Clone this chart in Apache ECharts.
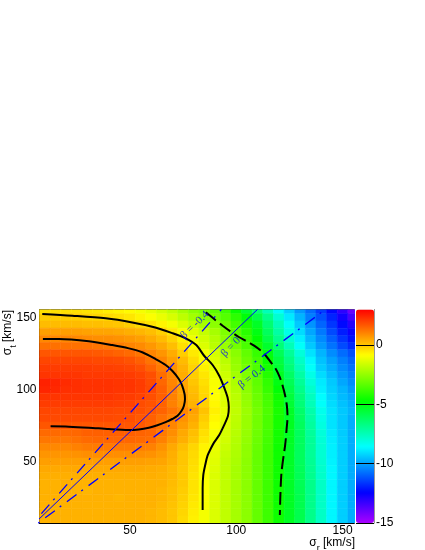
<!DOCTYPE html>
<html>
<head>
<meta charset="utf-8">
<script src="https://cdn.jsdelivr.net/npm/echarts@6/dist/echarts.min.js"></script>
<style>
  html, body { margin: 0; padding: 0; background: #fff; }
  #chart { width: 425px; height: 550px; }
</style>
</head>
<body>
<div id="chart"></div>
<script>
// bin centres of the 2D histogram (sigma_r along x, sigma_t along y, top row first)
var sigmaR = [10, 15, 20, 25, 30, 35, 40, 45, 50, 55, 60, 65, 70, 75, 80, 85, 90, 95, 100, 105, 110, 115, 120, 125, 130, 135, 140, 145, 150, 155];
var sigmaT = [155, 150, 145, 140, 135, 130, 125, 120, 115, 110, 105, 100, 95, 90, 85, 80, 75, 70, 65, 60, 55, 50, 45, 40, 35, 30, 25, 20, 15, 10];

// z values, one row per sigmaT entry
var zRows = [
  [-0.4, -0.4, -0.4, -0.4, -0.45, -0.5, -0.6, -0.7, -0.8, -1.0, -1.2, -1.5, -1.8, -2.2, -2.6, -2.9, -3.3, -3.8, -4.6, -5.5, -6.5, -7.5, -8.5, -9.3, -10.1, -10.8, -11.5, -12.3, -13.1, -14.0],
  [-0.1, -0.1, -0.1, -0.1, -0.2, -0.25, -0.3, -0.4, -0.5, -0.7, -0.9, -1.15, -1.45, -1.85, -2.25, -2.6, -2.95, -3.45, -4.05, -4.85, -5.8, -6.8, -7.9, -8.9, -9.7, -10.5, -11.2, -11.9, -12.7, -13.5],
  [0.15, 0.15, 0.15, 0.15, 0.1, 0.1, 0.05, 0.0, -0.1, -0.3, -0.45, -0.7, -1.0, -1.4, -1.8, -2.2, -2.6, -3.1, -3.7, -4.4, -5.3, -6.4, -7.5, -8.5, -9.4, -10.2, -10.9, -11.6, -12.3, -13.0],
  [0.6, 0.6, 0.6, 0.6, 0.55, 0.5, 0.5, 0.45, 0.35, 0.25, 0.1, -0.15, -0.55, -0.95, -1.35, -1.75, -2.2, -2.8, -3.4, -4.1, -5.0, -6.1, -7.2, -8.2, -9.1, -9.9, -10.6, -11.3, -12.0, -12.6],
  [0.95, 0.95, 0.95, 0.95, 0.9, 0.85, 0.85, 0.8, 0.7, 0.6, 0.4, 0.15, -0.2, -0.65, -1.1, -1.55, -2.0, -2.6, -3.2, -3.85, -4.7, -5.8, -6.85, -7.85, -8.8, -9.65, -10.35, -11.0, -11.65, -12.2],
  [1.3, 1.3, 1.3, 1.3, 1.3, 1.25, 1.2, 1.1, 1.0, 0.9, 0.7, 0.45, 0.1, -0.4, -0.9, -1.4, -1.9, -2.4, -3.0, -3.6, -4.4, -5.4, -6.5, -7.5, -8.5, -9.4, -10.1, -10.7, -11.3, -11.8],
  [1.7, 1.7, 1.7, 1.7, 1.7, 1.65, 1.6, 1.5, 1.4, 1.25, 1.0, 0.75, 0.4, -0.1, -0.55, -1.0, -1.5, -2.1, -2.65, -3.25, -3.9, -4.9, -6.0, -7.0, -8.0, -9.0, -9.7, -10.3, -10.8, -11.2],
  [1.95, 1.95, 1.95, 1.95, 1.95, 1.9, 1.9, 1.85, 1.75, 1.55, 1.25, 1.0, 0.6, 0.15, -0.35, -0.8, -1.35, -1.9, -2.5, -3.1, -3.7, -4.6, -5.7, -6.7, -7.7, -8.7, -9.5, -10.0, -10.5, -10.9],
  [2.1, 2.1, 2.1, 2.1, 2.1, 2.05, 2.05, 2.0, 1.95, 1.8, 1.5, 1.15, 0.8, 0.3, -0.2, -0.65, -1.2, -1.75, -2.4, -2.95, -3.55, -4.4, -5.5, -6.5, -7.5, -8.5, -9.35, -9.8, -10.3, -10.7],
  [2.2, 2.2, 2.2, 2.2, 2.15, 2.15, 2.15, 2.15, 2.1, 2.0, 1.8, 1.35, 0.95, 0.4, -0.1, -0.5, -1.05, -1.6, -2.25, -2.8, -3.4, -4.2, -5.2, -6.2, -7.2, -8.2, -9.1, -9.6, -10.1, -10.5],
  [2.5, 2.45, 2.35, 2.3, 2.25, 2.25, 2.25, 2.2, 2.2, 2.1, 1.85, 1.45, 1.0, 0.5, 0.0, -0.4, -0.95, -1.5, -2.1, -2.7, -3.3, -4.0, -5.0, -6.0, -7.0, -8.0, -8.9, -9.4, -9.9, -10.3],
  [2.45, 2.4, 2.3, 2.3, 2.25, 2.25, 2.25, 2.2, 2.2, 2.1, 1.9, 1.55, 1.05, 0.55, 0.1, -0.3, -0.9, -1.45, -2.0, -2.6, -3.2, -3.9, -4.8, -5.8, -6.8, -7.8, -8.8, -9.3, -9.7, -10.1],
  [2.2, 2.2, 2.2, 2.2, 2.2, 2.2, 2.2, 2.15, 2.1, 2.0, 1.8, 1.55, 1.05, 0.6, 0.2, -0.25, -0.85, -1.4, -1.9, -2.5, -3.1, -3.7, -4.5, -5.6, -6.6, -7.6, -8.6, -9.2, -9.6, -9.9],
  [2.1, 2.1, 2.1, 2.1, 2.1, 2.1, 2.1, 2.05, 2.0, 1.85, 1.75, 1.5, 1.05, 0.7, 0.3, -0.15, -0.75, -1.35, -1.85, -2.45, -3.05, -3.65, -4.45, -5.5, -6.5, -7.5, -8.5, -9.1, -9.5, -9.8],
  [1.95, 1.95, 1.95, 1.95, 1.95, 1.95, 1.95, 1.9, 1.9, 1.8, 1.65, 1.5, 1.25, 0.95, 0.55, 0.05, -0.65, -1.25, -1.8, -2.35, -2.95, -3.55, -4.35, -5.3, -6.3, -7.3, -8.3, -9.0, -9.4, -9.7],
  [1.9, 1.9, 1.9, 1.9, 1.9, 1.9, 1.9, 1.85, 1.8, 1.65, 1.55, 1.3, 1.05, 0.8, 0.45, -0.1, -0.75, -1.3, -1.85, -2.4, -3.0, -3.6, -4.4, -5.25, -6.2, -7.2, -8.2, -9.0, -9.4, -9.8],
  [1.7, 1.7, 1.7, 1.7, 1.7, 1.7, 1.7, 1.7, 1.7, 1.65, 1.5, 1.25, 1.0, 0.65, 0.3, -0.25, -0.85, -1.4, -1.9, -2.4, -3.0, -3.6, -4.4, -5.2, -6.1, -7.1, -8.1, -9.0, -9.4, -9.8],
  [1.4, 1.4, 1.4, 1.45, 1.55, 1.55, 1.55, 1.55, 1.55, 1.5, 1.45, 1.15, 0.85, 0.45, 0.1, -0.4, -0.95, -1.5, -1.95, -2.45, -3.05, -3.65, -4.45, -5.25, -6.1, -7.05, -8.0, -8.9, -9.35, -9.8],
  [1.2, 1.2, 1.2, 1.3, 1.4, 1.45, 1.45, 1.45, 1.45, 1.4, 1.35, 1.05, 0.7, 0.35, 0.0, -0.5, -1.05, -1.55, -2.0, -2.5, -3.1, -3.7, -4.45, -5.25, -6.1, -7.0, -7.95, -8.85, -9.3, -9.8],
  [0.95, 0.95, 0.95, 1.05, 1.15, 1.15, 1.15, 1.15, 1.15, 1.1, 1.05, 0.8, 0.45, 0.1, -0.25, -0.7, -1.15, -1.65, -2.05, -2.55, -3.15, -3.75, -4.5, -5.3, -6.1, -7.0, -7.9, -8.8, -9.3, -9.8],
  [0.75, 0.75, 0.75, 0.8, 0.85, 0.85, 0.85, 0.85, 0.85, 0.85, 0.8, 0.65, 0.35, 0.0, -0.3, -0.75, -1.25, -1.75, -2.1, -2.55, -3.2, -3.8, -4.5, -5.3, -6.1, -7.0, -7.9, -8.8, -9.3, -9.8],
  [0.6, 0.6, 0.6, 0.6, 0.6, 0.6, 0.6, 0.6, 0.6, 0.6, 0.55, 0.5, 0.3, 0.0, -0.35, -0.8, -1.3, -1.8, -2.15, -2.6, -3.2, -3.8, -4.5, -5.3, -6.1, -6.95, -7.85, -8.75, -9.3, -9.8],
  [0.45, 0.45, 0.45, 0.45, 0.45, 0.45, 0.45, 0.45, 0.45, 0.45, 0.4, 0.35, 0.2, -0.05, -0.4, -0.85, -1.35, -1.8, -2.2, -2.6, -3.2, -3.8, -4.5, -5.3, -6.05, -6.9, -7.8, -8.7, -9.3, -9.8],
  [0.35, 0.35, 0.35, 0.35, 0.35, 0.35, 0.35, 0.35, 0.35, 0.35, 0.35, 0.3, 0.2, -0.05, -0.45, -0.9, -1.4, -1.8, -2.2, -2.6, -3.2, -3.8, -4.5, -5.3, -6.0, -6.85, -7.75, -8.7, -9.3, -9.8],
  [0.3, 0.3, 0.35, 0.3, 0.3, 0.3, 0.3, 0.3, 0.3, 0.3, 0.3, 0.3, 0.15, -0.05, -0.45, -0.9, -1.4, -1.8, -2.2, -2.6, -3.2, -3.8, -4.5, -5.3, -6.0, -6.8, -7.7, -8.7, -9.3, -9.8],
  [0.3, 0.3, 0.3, 0.3, 0.25, 0.3, 0.3, 0.3, 0.3, 0.3, 0.3, 0.25, 0.1, -0.1, -0.45, -0.9, -1.4, -1.8, -2.2, -2.6, -3.2, -3.8, -4.5, -5.3, -5.95, -6.8, -7.7, -8.7, -9.3, -9.8],
  [0.3, 0.3, 0.3, 0.3, 0.3, 0.3, 0.3, 0.25, 0.3, 0.3, 0.3, 0.25, 0.1, -0.15, -0.5, -0.9, -1.4, -1.8, -2.2, -2.6, -3.2, -3.8, -4.5, -5.25, -5.9, -6.8, -7.7, -8.7, -9.3, -9.8],
  [0.3, 0.3, 0.3, 0.3, 0.3, 0.3, 0.3, 0.3, 0.3, 0.3, 0.3, 0.2, 0.05, -0.2, -0.55, -0.95, -1.4, -1.8, -2.2, -2.6, -3.2, -3.8, -4.5, -5.25, -5.9, -6.8, -7.7, -8.7, -9.3, -9.8],
  [0.3, 0.3, 0.3, 0.3, 0.3, 0.3, 0.3, 0.3, 0.3, 0.3, 0.25, 0.15, 0.0, -0.25, -0.6, -1.0, -1.4, -1.8, -2.2, -2.6, -3.2, -3.8, -4.5, -5.25, -5.9, -6.8, -7.7, -8.7, -9.3, -9.8],
  [0.3, 0.3, 0.3, 0.3, 0.3, 0.3, 0.3, 0.3, 0.3, 0.3, 0.25, 0.15, 0.0, -0.3, -0.65, -1.0, -1.4, -1.8, -2.2, -2.6, -3.2, -3.8, -4.5, -5.25, -5.9, -6.8, -7.7, -8.7, -9.3, -9.8]
];

// contour lines [sigma_r, sigma_t]
var innerContour = [[9.1, 135.0], [16.6, 135.0], [30.7, 133.4], [41.7, 130.8], [49.5, 128.5], [55.8, 125.8], [62.1, 121.1], [66.8, 117.0], [69.9, 113.0], [73.0, 107.3], [74.6, 102.6], [75.7, 96.9], [75.9, 93.4], [75.4, 88.8], [74.3, 85.3], [72.4, 81.8], [69.9, 79.6], [66.8, 77.4], [62.9, 75.3], [58.9, 73.6], [54.2, 72.4], [49.5, 72.0], [40.1, 72.6], [30.7, 73.6], [21.3, 74.3], [12.7, 74.5]];
var outerContour = [[8.8, 152.3], [22.9, 151.1], [38.6, 149.3], [51.1, 146.5], [60.5, 143.5], [69.9, 139.1], [76.2, 135.5], [81.2, 130.8], [84.9, 123.4], [88.9, 117.0], [92.0, 109.6], [94.3, 101.5], [95.9, 94.6], [96.5, 87.7], [96.1, 81.6], [94.3, 75.4], [92.0, 68.5], [89.6, 63.4], [88.1, 59.3], [86.5, 54.2], [85.4, 47.7], [84.5, 40.8], [84.2, 31.6], [84.2, 16.6]];
var dashedContour = [[85.7, 153.5], [89.6, 148.8], [93.6, 144.2], [97.5, 140.0], [101.4, 136.2], [105.3, 133.1], [108.4, 130.4], [111.6, 126.9], [113.9, 123.4], [116.3, 118.8], [118.6, 114.2], [120.5, 108.4], [121.8, 102.6], [123.0, 95.7], [123.8, 88.8], [124.1, 81.0], [123.7, 73.1], [123.0, 61.6], [122.1, 52.4], [121.3, 43.1], [121.0, 36.2], [120.7, 24.7], [120.5, 13.1]];

// constant-anisotropy lines through the origin
var betaNames = ['β = -0.4', 'β = 0', 'β = 0.4'];
var betaLineEnds = [[93, 155.5], [110, 155.5], [142, 155.5]];
var betaLabelPos = [[80.5, 144.7], [97.5, 129.4], [107.3, 108.7]];
var betaLabelAngle = [44, 46, 38];

var xMajor = [50, 100, 150];
var xMinor = [10, 20, 30, 40, 60, 70, 80, 90, 110, 120, 130, 140];
var yMajor = [50, 100, 150];
var yMinor = [10, 20, 30, 40, 60, 70, 80, 90, 110, 120, 130, 140];
var zTicks = [0, -5, -10, -15];

var binW = 5, binH = 5;
var font = "'Liberation Sans', Arial, sans-serif";

var cells = [];
for (var j = 0; j < sigmaT.length; j++) {
    for (var i = 0; i < sigmaR.length; i++) {
        cells.push([sigmaR[i], sigmaT[j], zRows[j][i]]);
    }
}

// ROOT "pretty" palette: hue 280 (violet) down to 0 (red), S=1, L=0.5
function hueColor(h) {
    var f = function (n) {
        var k = (n + h / 30) % 12;
        var v = 0.5 - 0.5 * Math.max(-1, Math.min(k - 3, 9 - k, 1));
        var s = Math.round(v * 255).toString(16);
        return s.length < 2 ? '0' + s : s;
    };
    return '#' + f(0) + f(8) + f(4);
}
var palette = [];
for (var h = 280; h >= 0; h -= 10) palette.push(hueColor(h));

function renderCell(params, api) {
    var x = api.value(0), y = api.value(1);
    var a = api.coord([x - binW / 2, y + binH / 2]);
    var b = api.coord([x + binW / 2, y - binH / 2]);
    var c = api.visual('color');
    return {
        type: 'rect',
        shape: {x: a[0], y: a[1], width: b[0] - a[0], height: b[1] - a[1]},
        style: {fill: c, stroke: c, lineWidth: 0.6}
    };
}

function contourSeries(data, type) {
    return {
        type: 'line', data: data, xAxisIndex: 0, yAxisIndex: 0,
        showSymbol: false, smooth: 0.3, silent: true, z: 4,
        lineStyle: {color: '#000', width: 2, type: type}
    };
}

function betaSeries(k, type) {
    return {
        type: 'line', data: [[0, 0], betaLineEnds[k]], xAxisIndex: 0, yAxisIndex: 0,
        showSymbol: false, silent: true, z: 5,
        lineStyle: {color: '#0000ff', width: k === 1 ? 1 : 1.3, type: type}
    };
}

var labelData = betaNames.map(function (name, k) {
    return {value: betaLabelPos[k], label: {formatter: name, rotate: betaLabelAngle[k]}};
});

var tickLine = {color: '#000', width: 1};

var option = {
    animation: false,
    grid: [
        {left: 39.5, top: 309.4, width: 314.8, height: 213.7},
        {left: 356, top: 309.4, width: 18, height: 213.7}
    ],
    visualMap: {
        type: 'continuous', min: -15, max: 3, seriesIndex: 0, dimension: 2,
        calculable: false, hoverLink: false, showLabel: false, text: null,
        orient: 'vertical', left: 356, top: 309.4, padding: 0,
        itemWidth: 18, itemHeight: 213.7,
        inRange: {color: palette}
    },
    xAxis: [
        {
            gridIndex: 0, type: 'value', min: 7.5, max: 155.5, position: 'bottom',
            axisLine: {onZero: false, lineStyle: tickLine},
            axisTick: {inside: true, length: 12, customValues: xMajor, lineStyle: tickLine},
            axisLabel: {customValues: xMajor, color: '#000', fontFamily: font, fontSize: 12, margin: 2},
            splitLine: {show: false}
        },
        {
            gridIndex: 0, type: 'value', min: 7.5, max: 155.5, position: 'bottom',
            axisLine: {show: false, onZero: false},
            axisTick: {inside: true, length: 6, customValues: xMinor, lineStyle: tickLine},
            axisLabel: {show: false}, splitLine: {show: false}
        },
        {
            gridIndex: 0, type: 'value', min: 7.5, max: 155.5, position: 'top',
            axisLine: {onZero: false, lineStyle: {color: '#555', width: 1}},
            axisTick: {show: false}, axisLabel: {show: false}, splitLine: {show: false}
        },
        {gridIndex: 1, type: 'value', min: 1, max: 2, show: false}
    ],
    yAxis: [
        {
            gridIndex: 0, type: 'value', min: 7.5, max: 155.5, position: 'left',
            axisLine: {onZero: false, lineStyle: tickLine},
            axisTick: {inside: true, length: 19, customValues: yMajor, lineStyle: tickLine},
            axisLabel: {customValues: yMajor, color: '#000', fontFamily: font, fontSize: 12, margin: 3},
            splitLine: {show: false}
        },
        {
            gridIndex: 0, type: 'value', min: 7.5, max: 155.5, position: 'left',
            axisLine: {show: false, onZero: false},
            axisTick: {inside: true, length: 10, customValues: yMinor, lineStyle: tickLine},
            axisLabel: {show: false}, splitLine: {show: false}
        },
        {
            gridIndex: 1, type: 'value', min: -15, max: 3, position: 'right', z: 10,
            axisLine: {show: true, onZero: false, lineStyle: {color: '#999', width: 1}},
            axisTick: {inside: true, length: 18, customValues: zTicks, lineStyle: tickLine},
            axisLabel: {customValues: zTicks, color: '#000', fontFamily: font, fontSize: 12, margin: 2},
            splitLine: {show: false}
        }
    ],
    graphic: [
        {
            type: 'text', x: 355, y: 544, z: 20,
            style: {
                text: '{g|σ}{s|r}{g| [km/s]}', align: 'right', verticalAlign: 'middle',
                rich: {
                    g: {fontFamily: font, fontSize: 12, lineHeight: 14, verticalAlign: 'top', fill: '#000'},
                    s: {fontFamily: font, fontSize: 9, lineHeight: 9, padding: [7, 0, 0, 0], verticalAlign: 'top', fill: '#000'}
                }
            }
        },
        {
            type: 'text', x: 9, y: 310, rotation: Math.PI / 2, z: 20,
            style: {
                text: '{g|σ}{s|t}{g| [km/s]}', align: 'right', verticalAlign: 'middle',
                rich: {
                    g: {fontFamily: font, fontSize: 12, lineHeight: 14, verticalAlign: 'top', fill: '#000'},
                    s: {fontFamily: font, fontSize: 9, lineHeight: 9, padding: [7, 0, 0, 0], verticalAlign: 'top', fill: '#000'}
                }
            }
        }
    ],
    series: [
        {
            type: 'custom', data: cells, xAxisIndex: 0, yAxisIndex: 0,
            encode: {x: 0, y: 1}, renderItem: renderCell, clip: true, silent: true, z: 2
        },
        contourSeries(innerContour, 'solid'),
        contourSeries(outerContour, 'solid'),
        contourSeries(dashedContour, [13, 5]),
        betaSeries(0, [12, 6, 2, 7]),
        betaSeries(1, 'solid'),
        betaSeries(2, [12, 6, 2, 7]),
        {
            type: 'scatter', data: labelData, xAxisIndex: 0, yAxisIndex: 0,
            symbolSize: 1, silent: true, z: 6,
            itemStyle: {color: 'rgba(0,0,0,0)'},
            label: {
                show: true, position: 'inside', color: '#0000ff',
                fontFamily: "'Liberation Serif', 'Times New Roman', serif", fontSize: 11
            }
        }
    ]
};

var chart = echarts.init(document.getElementById('chart'));
chart.setOption(option);
</script>
</body>
</html>
